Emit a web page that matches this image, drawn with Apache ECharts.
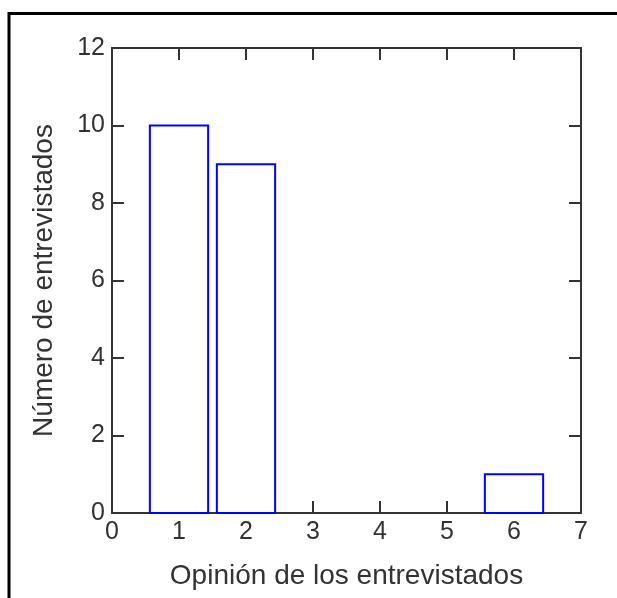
<!DOCTYPE html>
<html>
<head>
<meta charset="utf-8">
<script src="https://cdn.jsdelivr.net/npm/echarts@6/dist/echarts.min.js"></script>
<style>
  html, body { margin: 0; padding: 0; background: #fff; }
  #chart { width: 617px; height: 598px; }
</style>
</head>
<body>
<div id="chart"></div>
<script>
// datos del histograma
const opiniones = [1, 2, 3, 4, 5, 6];
const entrevistados = [10, 9, 0, 0, 0, 1];
const xTicks = [0, 1, 2, 3, 4, 5, 6, 7];
const yTicks = [0, 2, 4, 6, 8, 10, 12];

const chart = echarts.init(document.getElementById('chart'));

const fuente = '"Liberation Sans", Arial, sans-serif';
const ejeColor = '#333';

const ejeX = (pos, conLabel) => ({
  type: 'value',
  position: pos,
  min: xTicks[0],
  max: xTicks[xTicks.length - 1],
  interval: 1,
  axisLine: { show: true, onZero: false, lineStyle: { color: ejeColor, width: 2 } },
  axisTick: { show: true, inside: true, length: 12, lineStyle: { color: ejeColor, width: 2 } },
  axisLabel: { show: conLabel, color: '#333', fontSize: 25, fontFamily: fuente, margin: 7 },
  splitLine: { show: false }
});

const ejeY = (pos, conLabel) => ({
  type: 'value',
  position: pos,
  min: yTicks[0],
  max: yTicks[yTicks.length - 1],
  interval: 2,
  axisLine: { show: true, onZero: false, lineStyle: { color: ejeColor, width: 2 } },
  axisTick: { show: true, inside: true, length: 12, lineStyle: { color: ejeColor, width: 2 } },
  axisLabel: { show: conLabel, color: '#333', fontSize: 25, fontFamily: fuente, margin: 7 },
  splitLine: { show: false }
});

const ancho = 0.87;

const option = {
  animation: false,
  backgroundColor: '#fff',
  grid: { left: 112, right: 36, top: 48, bottom: 85 },
  xAxis: [
    Object.assign(ejeX('bottom', true), {
      name: 'Opinión de los entrevistados',
      nameLocation: 'middle',
      nameGap: 49,
      nameTextStyle: { color: '#333', fontSize: 28, fontFamily: fuente }
    }),
    ejeX('top', false)
  ],
  yAxis: [
    Object.assign(ejeY('left', true), {
      name: 'Número de entrevistados',
      nameLocation: 'middle',
      nameGap: 54,
      nameTextStyle: { color: '#333', fontSize: 28, fontFamily: fuente }
    }),
    ejeY('right', false)
  ],
  graphic: [{
    type: 'polyline',
    shape: { points: [[9, 598], [9, 13.5], [617, 13.5]] },
    style: { stroke: '#000', lineWidth: 3, fill: null },
    silent: true
  }],
  series: [{
    type: 'custom',
    xAxisIndex: 0,
    yAxisIndex: 0,
    data: opiniones.map((o, i) => [o, entrevistados[i]]),
    renderItem: (params, api) => {
      const v = api.value(1);
      if (!v) return null;
      const p0 = api.coord([api.value(0) - ancho / 2, v]);
      const p1 = api.coord([api.value(0) + ancho / 2, 0]);
      return {
        type: 'rect',
        shape: { x: p0[0], y: p0[1], width: p1[0] - p0[0], height: p1[1] - p0[1] },
        style: { fill: '#fff', stroke: '#0000ff', lineWidth: 2 }
      };
    },
    z: 1
  }]
};

chart.setOption(option);
</script>
</body>
</html>
